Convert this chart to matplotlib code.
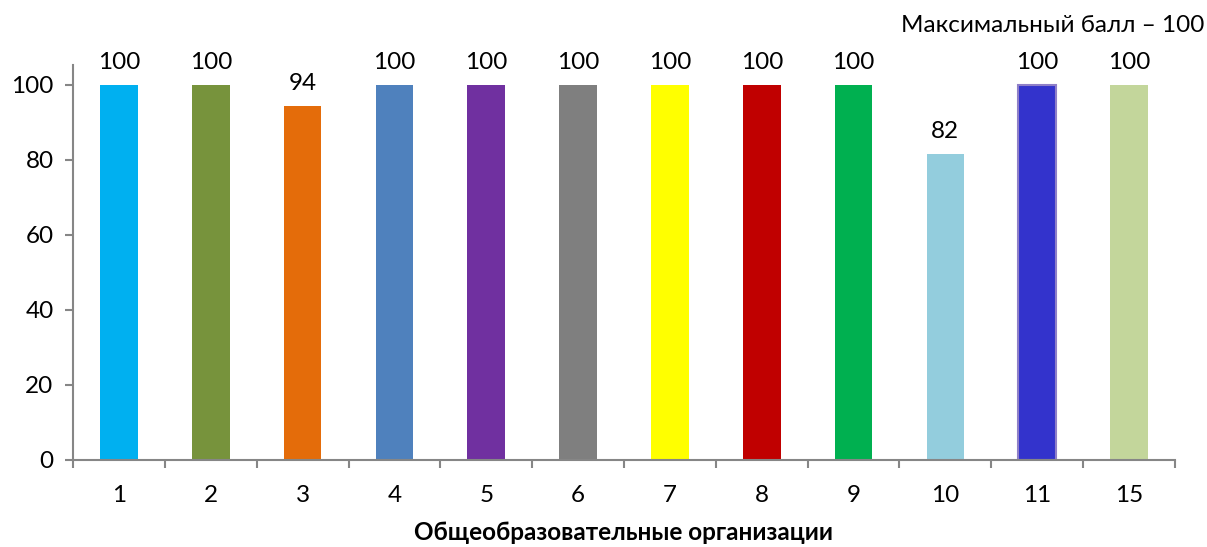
import matplotlib
matplotlib.use("Agg")
import matplotlib.pyplot as plt

categories = ["1", "2", "3", "4", "5", "6", "7", "8", "9", "10", "11", "15"]
values = [100, 100, 94.4, 100, 100, 100, 100, 100, 100, 81.6, 100, 100]
colors = ["#00B0F0", "#77933C", "#E46C0A", "#4F81BD", "#7030A0", "#7F7F7F",
          "#FFFF00", "#C00000", "#00B050", "#93CDDD", "#3333CC", "#C3D69B"]
yticks = [0, 20, 40, 60, 80, 100]

plt.rcParams['font.family'] = ['Lato', 'DejaVu Sans']
FS = 17.5

fig = plt.figure(figsize=(12.07, 5.47), dpi=100)
ax = fig.add_axes([73/1207, 1-460/547, (1175-73)/1207, (460-65)/547])

x = list(range(len(categories)))
bars = ax.bar(x, values, width=0.41, color=colors, zorder=2)
bars[10].set_edgecolor("#8F7FC8")
bars[10].set_linewidth(1.5)

for xi, v in zip(x, values):
    ax.text(xi, v + 3.2, f"{v:.0f}", ha="center", va="bottom", fontsize=FS, color="black")

ax.set_xlim(-0.5, len(categories) - 0.5)
ax.set_ylim(0, 105.3)
ax.set_yticks(yticks)
ax.set_yticklabels([str(t) for t in yticks], fontsize=FS)

ax.set_xticks(x)
ax.set_xticklabels(categories, fontsize=FS)
ax.tick_params(axis='x', length=0, pad=18)
ax.set_xticks([i - 0.5 for i in range(len(categories) + 1)], minor=True)
ax.tick_params(axis='x', which='minor', length=6, width=1.5, color="#868686", direction='out')
ax.tick_params(axis='y', length=6, width=1.5, color="#868686", direction='out', pad=8)

for s in ["top", "right"]:
    ax.spines[s].set_visible(False)
for s in ["left", "bottom"]:
    ax.spines[s].set_color("#868686")
    ax.spines[s].set_linewidth(1.5)

ax.set_xlabel("Общеобразовательные организации", fontsize=FS, fontweight="bold")
ax.xaxis.set_label_coords(0.5, (460 - 533) / 395)
ax.xaxis.label.set_va("center")

fig.text(1204/1207, 1-25/547, "Максимальный балл – 100", ha="right", va="center", fontsize=FS)

fig.savefig("out.png", dpi=100)
